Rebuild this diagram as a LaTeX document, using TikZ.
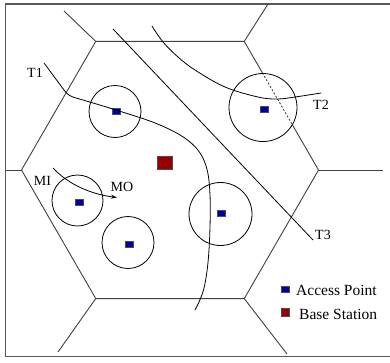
\documentclass[tikz,border=0pt]{standalone}
\usepackage{fontspec}
\setmainfont{Liberation Serif}
\usetikzlibrary{calc,arrows.meta}
\definecolor{apblue}{RGB}{0,0,170}
\definecolor{bsred}{RGB}{150,0,0}
\tikzset{
  hexline/.style={draw=black!75, line width=0.9pt},
  frameline/.style={draw=black!65, line width=1.1pt},
  trackline/.style={draw=black, line width=0.8pt},
  cell/.style={draw=black, line width=0.8pt, circle, inner sep=0pt},
  ap/.style={draw=black!70, line width=0.4pt, fill=apblue, rectangle, inner sep=0pt, minimum width=8pt, minimum height=6pt},
  bs/.style={draw=black!70, line width=0.5pt, fill=bsred, rectangle, inner sep=0pt, minimum width=15pt, minimum height=13pt},
  lbl/.style={inner sep=0pt, font=\fontsize{14}{16}\selectfont},
  leg/.style={inner sep=0pt, anchor=west, font=\fontsize{15.5}{18}\selectfont},
}
\begin{document}
\begin{tikzpicture}[x=1pt,y=-1pt]
\useasboundingbox (0,0) rectangle (390,362);
% frame (open on the right)
\draw[frameline] (392,4) -- (5.5,4) -- (5.5,356.5) -- (392,356.5);
% hexagon vertices
\coordinate (v1) at (95.75,41.4);
\coordinate (v2) at (244.25,41.4);
\coordinate (v3) at (318.5,170);
\coordinate (v4) at (244.25,298.6);
\coordinate (v5) at (95.75,298.6);
\coordinate (v6) at (21.5,170);
% spoke ends
\coordinate (e1) at (64,11);
\coordinate (e2) at (268,4);
\coordinate (e3) at (383,170);
\coordinate (e4) at (287,354);
\coordinate (e5) at (58,352);
\coordinate (e6) at (5.5,170);
% dashed part of the v2-v3 edge
\coordinate (p1) at ($(v2)!0.2443!(v3)$);
\coordinate (p2) at ($(v2)!0.6469!(v3)$);
\draw[hexline] (p2) -- (v3) -- (v4) -- (v5) -- (v6) -- (v1) -- (v2) -- (p1);
\draw[hexline, dash pattern=on 2pt off 1.8pt] (p1) -- (p2);
\foreach \i in {1,...,6} {\draw[hexline] (v\i) -- (e\i);}
% coverage circles
\node[cell, minimum size=52pt] (c1) at (115,111.5) {};
\node[cell, minimum size=68pt] (c2) at (263,107.5) {};
\node[cell, minimum size=51pt] (c3) at (77.5,200.5) {};
\node[cell, minimum size=52pt] (c4) at (128,242.5) {};
\node[cell, minimum size=63pt] (c5) at (220.5,214) {};
% access points
\node[ap] (a1) at (116,111) {};
\node[ap] (a2) at (264,109) {};
\node[ap] (a3) at (79,202) {};
\node[ap] (a4) at (129,244) {};
\node[ap] (a5) at (221,213) {};
% base station
\node[bs] (b0) at (164.5,162.5) {};
% trajectories
\draw[trackline] (44,63) -- (64,90) .. controls (67,94) and (69,96) .. (76,98)
  plot[smooth, tension=0.6] coordinates {(76,98) (116,110) (160,125) (190,142) (205,163) (210,195) (209,250) (204,288) (195,310)};
\draw[trackline] plot[smooth, tension=0.6] coordinates {(152,26) (163,42) (178,57) (195,70) (225,87) (258,97) (277,99) (295,97) (321,93)};
\coordinate (t3s) at (113,29);
\coordinate (t3e) at (313,240);
\draw[trackline] (t3s) -- (t3e);
% MI -> MO movement
\coordinate (mis) at (53,168);
\coordinate (moe) at (117,197.5);
\draw[trackline, -{Stealth[length=6pt,width=4pt]}] (mis) .. controls (68,184) and (90,194) .. (moe);
% labels
\node[lbl] (lt1) at (35,73) {T1};
\node[lbl] (lt2) at (321,105) {T2};
\node[lbl] (lt3) at (323,235) {T3};
\node[lbl] (lmi) at (42.5,181) {MI};
\node[lbl] (lmo) at (122,187) {MO};
% legend
\node[ap, minimum width=8pt, minimum height=6.5pt] (la) at (285,289) {};
\node[bs, minimum width=8pt, minimum height=8pt] (lb) at (285,312.5) {};
\node[leg] (lta) at (296,290) {Access Point};
\node[leg] (ltb) at (299,314) {Base Station};
\end{tikzpicture}
\end{document}
